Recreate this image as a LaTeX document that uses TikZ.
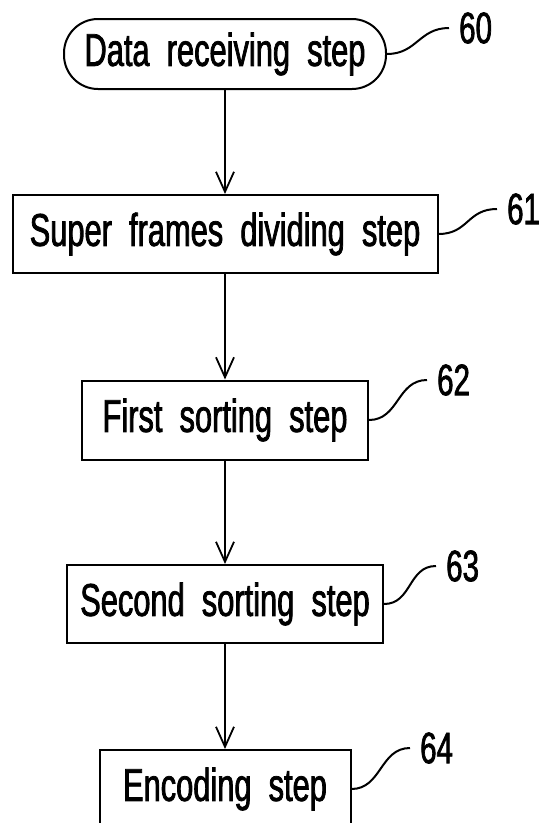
\documentclass[tikz,border=0pt]{standalone}
\usepackage{fontspec}
\newfontfamily\flowfont[FakeStretch=0.67,FakeBold=1.6]{Liberation Sans}
\usetikzlibrary{arrows.meta}
\begin{document}
\begin{tikzpicture}[x=1pt,y=-1pt,
  stepbox/.style={draw, line width=2pt, inner sep=0pt, font=\flowfont\fontsize{46}{50}\selectfont},
  roundbox/.style={stepbox, rounded corners=34pt},
  refnum/.style={inner xsep=10pt, inner ysep=0pt, anchor=west, font=\flowfont\fontsize{44}{48}\selectfont},
  flow/.style={line width=1.8pt, -{Straight Barb[length=20pt,width=18pt,line width=1.8pt]}},
  leader/.style={line width=2pt}]
\useasboundingbox (0,0) rectangle (540,823);
\clip (0,0) rectangle (540,823);
% steps
\node[roundbox, minimum width=322pt, minimum height=70pt] (s60) at (225,54) {Data\ \ receiving\ \ step};
\node[stepbox, minimum width=425pt, minimum height=78pt] (s61) at (225,234) {Super\ \ frames\ \ dividing\ \ step};
\node[stepbox, minimum width=286pt, minimum height=79pt] (s62) at (225,420) {First\ \ sorting\ \ step};
\node[stepbox, minimum width=316pt, minimum height=78pt] (s63) at (225,604) {Second\ \ sorting\ \ step};
\node[stepbox, minimum width=251pt, minimum height=78pt] (s64) at (225,789) {Encoding\ \ step};
% reference numbers
\node[refnum] (n60) at (449,28) {60};
\node[refnum] (n61) at (497,209) {61};
\node[refnum] (n62) at (427,380) {62};
\node[refnum] (n63) at (436,566) {63};
\node[refnum] (n64) at (410,748) {64};
% flow
\draw[flow] (s60) -- (s61);
\draw[flow] (s61) -- (s62);
\draw[flow] (s62) -- (s63);
\draw[flow] (s63) -- (s64);
% leaders
\draw[leader] (s60.east) .. controls +(30,0) and +(-30,0) .. (n60.west);
\draw[leader] (s61.east) .. controls +(30,0) and +(-30,0) .. (n61.west);
\draw[leader] (s62.east) .. controls +(30,0) and +(-30,0) .. (n62.west);
\draw[leader] (s63.east) .. controls +(28,0) and +(-28,0) .. (n63.west);
\draw[leader] (s64.east) .. controls +(30,0) and +(-30,0) .. (n64.west);
\end{tikzpicture}
\end{document}
